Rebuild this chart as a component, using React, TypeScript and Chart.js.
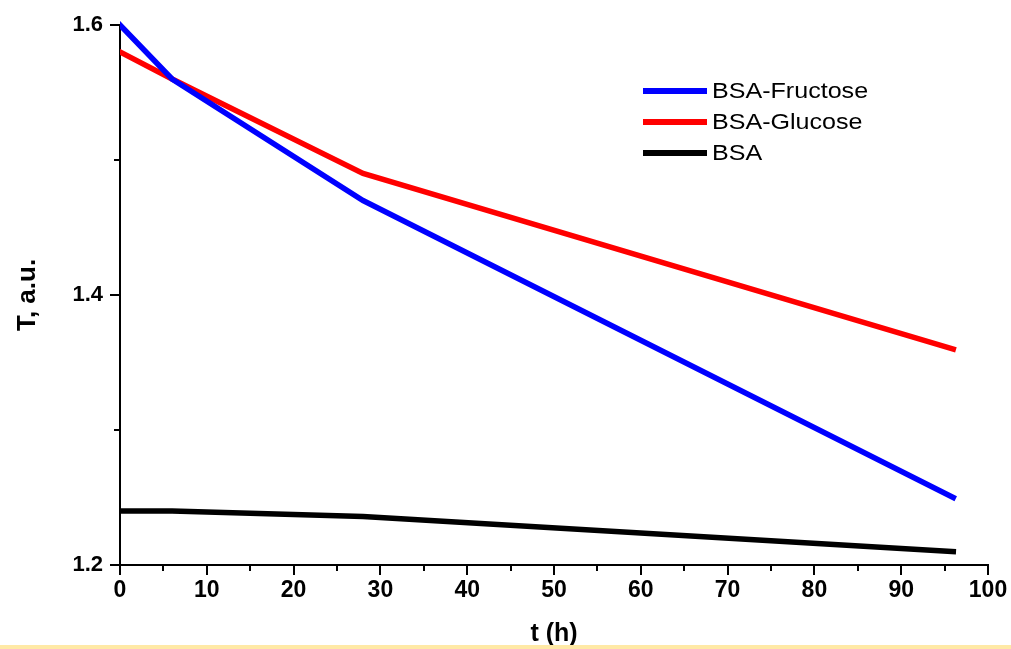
import React, { useEffect, useRef } from "react";
import { Chart, registerables } from "chart.js";

Chart.register(...registerables);

const timeHours = [0, 6, 28, 96];
const bsaFructose = [1.6, 1.56, 1.47, 1.25];
const bsaGlucose = [1.58, 1.56, 1.49, 1.36];
const bsa = [1.24, 1.24, 1.236, 1.21];

const seriesNames = ["BSA-Fructose", "BSA-Glucose", "BSA"];
const seriesColors = ["#0000ff", "#ff0000", "#000000"];

const xMinorTicks = [5, 15, 25, 35, 45, 55, 65, 75, 85, 95];
const yMinorTicks = [1.3, 1.5];

const FONT = "'Liberation Sans', Arial, sans-serif";

const minorTickPlugin = {
  id: "minorTicks",
  afterDraw(chart: any) {
    const ctx = chart.ctx;
    const xs = chart.scales.x;
    const ys = chart.scales.y;
    const area = chart.chartArea;
    ctx.save();
    ctx.strokeStyle = "#000";
    ctx.lineWidth = 2;
    ctx.beginPath();
    xMinorTicks.forEach((v) => {
      const px = Math.round(xs.getPixelForValue(v));
      ctx.moveTo(px, area.bottom);
      ctx.lineTo(px, area.bottom + 6);
    });
    yMinorTicks.forEach((v) => {
      const py = Math.round(ys.getPixelForValue(v));
      ctx.moveTo(area.left, py);
      ctx.lineTo(area.left - 6, py);
    });
    ctx.stroke();
    ctx.restore();
  },
};

const legendPlugin = {
  id: "customLegend",
  afterDraw(chart: any) {
    const ctx = chart.ctx;
    const x0 = 643;
    const y0 = 91;
    const gap = 31;
    ctx.save();
    chart.data.datasets.forEach((ds: any, i: number) => {
      const y = y0 + i * gap;
      ctx.strokeStyle = ds.borderColor;
      ctx.lineWidth = 6;
      ctx.lineCap = "butt";
      ctx.beginPath();
      ctx.moveTo(x0, y);
      ctx.lineTo(x0 + 64, y);
      ctx.stroke();
      ctx.save();
      ctx.translate(x0 + 69, y);
      ctx.scale(1.14, 1);
      ctx.fillStyle = "#000";
      ctx.font = `22px ${FONT}`;
      ctx.textBaseline = "middle";
      ctx.textAlign = "left";
      ctx.fillText(ds.label, 0, 1);
      ctx.restore();
    });
    ctx.restore();
  },
};

export default function App() {
  const canvasRef = useRef<HTMLCanvasElement | null>(null);

  useEffect(() => {
    if (!canvasRef.current) return;
    const seriesData = [bsaFructose, bsaGlucose, bsa];
    const chart = new Chart(canvasRef.current, {
      type: "line",
      data: {
        datasets: seriesData.map((vals, i) => ({
          label: seriesNames[i],
          data: timeHours.map((t, j) => ({ x: t, y: vals[j] })),
          borderColor: seriesColors[i],
          backgroundColor: seriesColors[i],
          borderWidth: 5.5,
          borderCapStyle: "square",
          clip: { left: 0, top: 4, right: 6, bottom: 6 },
          pointRadius: 0,
          tension: 0,
          fill: false,
        })),
      },
      options: {
        animation: false,
        responsive: false,
        devicePixelRatio: 1,
        layout: { padding: { top: 25, right: 23, left: 0, bottom: 0 } },
        plugins: {
          legend: { display: false },
          tooltip: { enabled: false },
        },
        scales: {
          x: {
            type: "linear",
            min: 0,
            max: 100,
            afterFit: (s: any) => {
              s.height = 84;
            },
            ticks: {
              stepSize: 10,
              color: "#000",
              padding: 2,
              font: { family: FONT, size: 23, weight: "bold" },
            },
            grid: {
              drawOnChartArea: false,
              tickLength: 10,
              tickColor: "#000",
              tickWidth: 2,
              lineWidth: 2,
              color: "#000",
            },
            border: { display: true, color: "#000", width: 2 },
            title: {
              display: true,
              text: "t (h)",
              color: "#000",
              font: { family: FONT, size: 25, weight: "bold" },
              padding: { top: 0, bottom: 0 },
            },
          },
          y: {
            type: "linear",
            min: 1.2,
            max: 1.6,
            afterFit: (s: any) => {
              s.width = 120;
            },
            ticks: {
              stepSize: 0.2,
              color: "#000",
              padding: 7,
              font: { family: FONT, size: 22, weight: "bold" },
              callback: (v: any) => Number(v).toFixed(1),
            },
            grid: {
              drawOnChartArea: false,
              tickLength: 10,
              tickColor: "#000",
              tickWidth: 2,
              lineWidth: 2,
              color: "#000",
            },
            border: { display: true, color: "#000", width: 2 },
            title: {
              display: true,
              text: "T, a.u.",
              color: "#000",
              font: { family: FONT, size: 26, weight: "bold" },
              padding: { top: 12, bottom: 0 },
            },
          },
        },
      },
      plugins: [minorTickPlugin, legendPlugin],
    } as any);
    return () => chart.destroy();
  }, []);

  return (
    <div style={{ position: "absolute", left: 0, top: 0, width: 1011, height: 649, background: "#fff", overflow: "hidden" }}>
      <canvas ref={canvasRef} width={1011} height={649} style={{ display: "block" }} />
      <div style={{ position: "absolute", left: 0, top: 645, width: 1011, height: 4, background: "#FFE9A6" }} />
    </div>
  );
}
